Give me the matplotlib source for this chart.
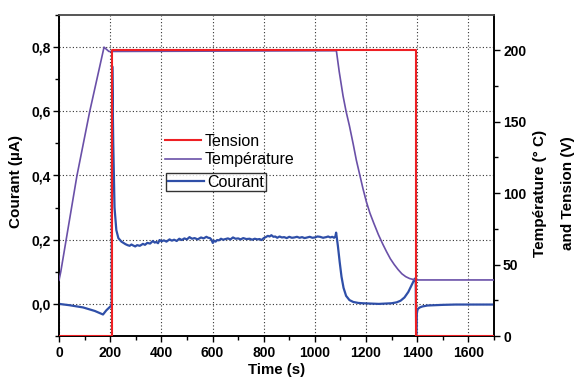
import matplotlib
matplotlib.use("Agg")
import matplotlib.pyplot as plt
from matplotlib.ticker import MultipleLocator, FuncFormatter

plt.rcParams['font.family'] = ['Liberation Sans', 'DejaVu Sans']

# ---- data ----
t_tension = [0, 208, 208, 1396, 1396, 1700]
tension = [0, 0, 200, 200, 0, 0]

t_temp = [0, 7, 70, 120, 176, 195, 1084, 1095, 1110, 1122, 1135, 1150, 1162, 1175,
          1188, 1201, 1215, 1230, 1248, 1266, 1280, 1295, 1310, 1325, 1340, 1355,
          1370, 1385, 1396, 1700]
temp = [39, 45, 112, 157, 202, 199, 199.5, 185, 168, 157, 147, 134, 123, 113,
        103, 94, 86, 79, 71, 64, 59, 54, 50, 46.5, 43.5, 41.5,
        40.2, 39.5, 39.2, 39.2]

t_cur = [0, 40, 94, 140, 172, 185, 198, 206, 208, 212, 217, 224, 232, 244, 252, 260,
         268, 276, 283, 290, 298, 305, 316, 328, 336, 345, 356, 367, 374, 380, 387,
         393, 401, 410, 420, 432, 441, 450, 460, 470, 480, 490, 500, 510, 520, 530,
         542, 555, 565, 576, 583, 590, 596, 601, 606, 612, 618, 625, 633, 641, 650,
         660, 670, 680, 690, 700, 710, 720, 732, 745, 755, 765, 775, 784, 792, 800,
         808, 816, 823, 830, 838, 845, 853, 862, 871, 880, 890, 900, 910, 920, 930,
         940, 950, 960, 970, 980, 990, 1000, 1010, 1020, 1032, 1044, 1052, 1060,
         1068, 1075, 1080, 1083, 1086, 1090, 1097, 1104, 1112, 1122, 1135, 1150,
         1170, 1187, 1220, 1250, 1280, 1300, 1320, 1335, 1350, 1365, 1380, 1390,
         1394, 1396, 1398, 1402, 1410, 1420, 1440, 1470, 1500, 1550, 1600, 1650, 1700]
courant = [0.0, -0.004, -0.011, -0.022, -0.033, -0.02, -0.01, -0.004, 0.74, 0.5,
           0.30, 0.23, 0.205, 0.194, 0.190, 0.186, 0.183, 0.181, 0.185, 0.182,
           0.179, 0.183, 0.181, 0.187, 0.184, 0.190, 0.188, 0.196, 0.191, 0.193,
           0.189, 0.199, 0.195, 0.198, 0.194, 0.201, 0.197, 0.200, 0.196, 0.203,
           0.199, 0.204, 0.201, 0.208, 0.203, 0.205, 0.201, 0.207, 0.204, 0.209,
           0.206, 0.205, 0.200, 0.190, 0.197, 0.194, 0.199, 0.198, 0.203, 0.200,
           0.202, 0.204, 0.201, 0.207, 0.203, 0.204, 0.201, 0.205, 0.202, 0.203,
           0.200, 0.203, 0.201, 0.202, 0.199, 0.205, 0.208, 0.212, 0.210, 0.214,
           0.209, 0.210, 0.206, 0.210, 0.207, 0.208, 0.205, 0.209, 0.206, 0.207,
           0.209, 0.206, 0.208, 0.205, 0.207, 0.209, 0.206, 0.207, 0.210, 0.209,
           0.206, 0.208, 0.210, 0.207, 0.209, 0.206, 0.210, 0.222, 0.205, 0.18,
           0.13, 0.085, 0.05, 0.025, 0.012, 0.006, 0.003, 0.002, 0.001, 0.0, 0.001,
           0.002, 0.005, 0.01, 0.02, 0.037, 0.062, 0.078, 0.08, -0.1, -0.03, -0.016,
           -0.011, -0.008, -0.005, -0.004, -0.003, -0.002, -0.002, -0.002, -0.002]

left_ticks = [0.0, 0.2, 0.4, 0.6, 0.8]
right_ticks = [0, 50, 100, 150, 200]
x_ticks = [0, 200, 400, 600, 800, 1000, 1200, 1400, 1600]

C_RED = '#ee2024'
C_PUR = '#6a50a8'
C_BLUE = '#2f4fa8'

W, H = 579, 381
fig = plt.figure(figsize=(W / 100, H / 100), dpi=100)
ax = fig.add_axes([59 / W, 1 - 336 / H, (494 - 59) / W, (336 - 15) / H])
ax2 = ax.twinx()

l_cur, = ax.plot(t_cur, courant, color=C_BLUE, lw=1.6, zorder=3)
ax.set_xlim(0, 1700)
ax.set_ylim(-0.1, 0.9)
ax.set_xticks(x_ticks)
ax.set_yticks(left_ticks)
ax.xaxis.set_minor_locator(MultipleLocator(100))
ax.yaxis.set_minor_locator(MultipleLocator(0.1))
ax.yaxis.set_major_formatter(FuncFormatter(lambda v, p: f"{v:.1f}".replace('.', ',')))
ax.grid(True, which='major', linestyle=(0, (1, 2)), color='#333333', linewidth=0.8)
ax.set_axisbelow(True)

l_temp, = ax2.plot(t_temp, temp, color=C_PUR, lw=1.2, zorder=3)
l_ten, = ax2.plot(t_tension, tension, color=C_RED, lw=1.5, zorder=4)
ax2.set_ylim(0, 224.5)
ax2.set_yticks(right_ticks)
ax2.yaxis.set_minor_locator(MultipleLocator(25))

for a in (ax, ax2):
    a.tick_params(which='major', direction='out', length=4, width=1,
                  labelsize=10)
    a.tick_params(which='minor', direction='out', length=3, width=1)
    for lab in a.get_xticklabels() + a.get_yticklabels():
        lab.set_fontweight('bold')
    for s in a.spines.values():
        s.set_linewidth(1.2)
ax.spines['top'].set_color('#555555')
ax2.spines['top'].set_color('#555555')
ax.tick_params(axis='x', pad=3)
ax.tick_params(axis='y', pad=2)
ax2.tick_params(axis='y', pad=2.5)

fig.text(16 / W, 1 - 181 / H, 'Courant (µA)', rotation=90, ha='center', va='center',
         fontsize=11, fontweight='bold')
fig.text(277 / W, 1 - 370 / H, 'Time (s)', ha='center', va='center',
         fontsize=10.8, fontweight='bold')
fig.text(540 / W, 1 - 193 / H, 'Température (° C)', rotation=90, ha='center',
         va='center', fontsize=11, fontweight='bold')
fig.text(568 / W, 1 - 193 / H, 'and Tension (V)', rotation=90, ha='center',
         va='center', fontsize=11, fontweight='bold')

leg1 = ax2.legend([l_ten, l_temp], ['Tension', 'Température'], loc='upper left',
                  bbox_to_anchor=(165 / W, 1 - 134 / H), bbox_transform=fig.transFigure,
                  frameon=False, fontsize=11.5, handlelength=2.25, handletextpad=0.25,
                  borderpad=0, borderaxespad=0, labelspacing=0.2)
ax2.add_artist(leg1)
leg2 = ax2.legend([l_cur], ['Courant'], loc='upper left',
                  bbox_to_anchor=(166 / W, 1 - 173 / H), bbox_transform=fig.transFigure,
                  frameon=True, fancybox=False, edgecolor='black', fontsize=11.5,
                  handlelength=2.25, handletextpad=0.25, borderpad=0.1,
                  borderaxespad=0)
leg2.get_frame().set_linewidth(1.0)

fig.savefig('out.png', dpi=100)
